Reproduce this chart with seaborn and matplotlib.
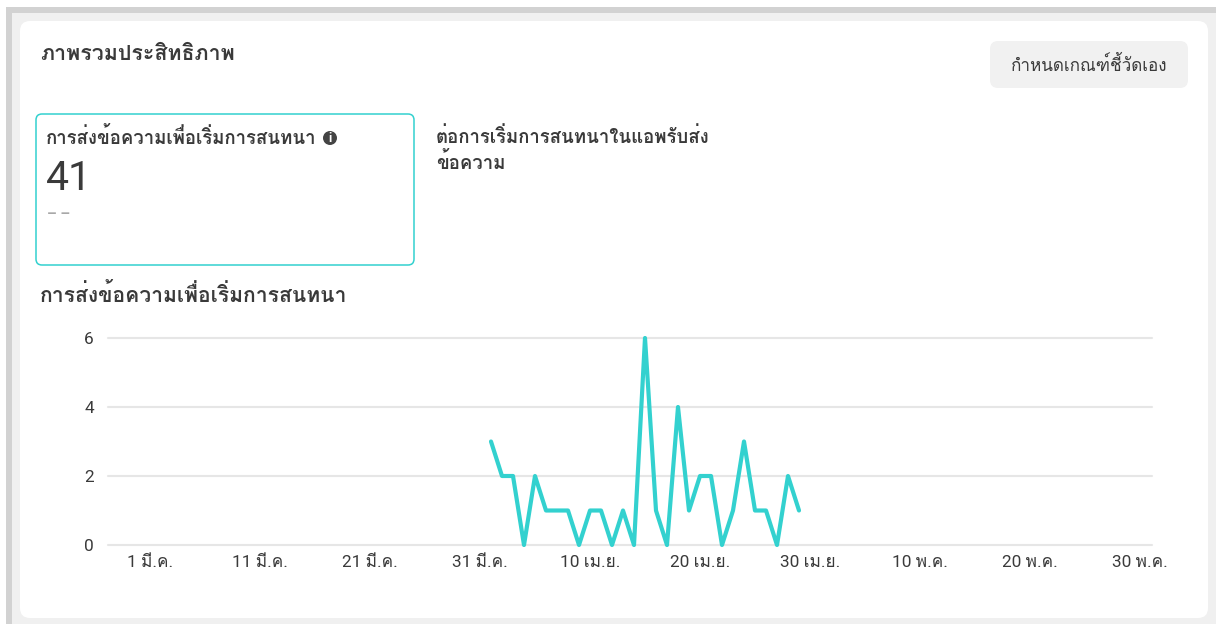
import pandas as pd
import matplotlib
matplotlib.use('Agg')
import matplotlib.pyplot as plt
from matplotlib.patches import FancyBboxPatch, Rectangle
import matplotlib.dates as mdates
import seaborn as sns

# --- Data ---
dates = pd.date_range('2024-04-01', periods=29)
values = [3, 2, 2, 0, 2, 1, 1, 1, 0, 1, 1, 0, 1, 0, 6, 1, 0, 4, 1, 2, 2, 0, 1, 3, 1, 1, 0, 2, 1]
y_ticks = [0, 2, 4, 6]
x_tick_dates = ['2024-03-01', '2024-03-11', '2024-03-21', '2024-03-31', '2024-04-10', '2024-04-20',
                '2024-04-30', '2024-05-10', '2024-05-20', '2024-05-30']
x_tick_labels = ['1 มี.ค.', '11 มี.ค.', '21 มี.ค.', '31 มี.ค.', '10 เม.ย.', '20 เม.ย.',
                 '30 เม.ย.', '10 พ.ค.', '20 พ.ค.', '30 พ.ค.']
page_title = 'ภาพรวมประสิทธิภาพ'
button_text = 'กำหนดเกณฑ์ชี้วัดเอง'
metric_title = 'การส่งข้อความเพื่อเริ่มการสนทนา'
metric_value = '41'
other_metric = 'ต่อการเริ่มการสนทนาในแอพรับส่ง\nข้อความ'

W, H = 1219, 624
TEAL = '#33d1cf'
TEXT = '#3a3a3a'
FONTS = ['Roboto', 'Loma', 'DejaVu Sans']

sns.set_theme(style='white')
plt.rcParams['font.family'] = FONTS

fig = plt.figure(figsize=(W / 100, H / 100), dpi=100, facecolor='white')

# page background drawn in pixel coordinates
bg = fig.add_axes([0, 0, 1, 1], zorder=0)
bg.set_xlim(0, W)
bg.set_ylim(H, 0)
bg.axis('off')
bg.add_patch(Rectangle((6, 7), 1210, H - 7, fc='#d2d2d2', ec='none'))
bg.add_patch(Rectangle((12, 13), 1204, H - 13, fc='#f0f0f0', ec='none'))
bg.add_patch(FancyBboxPatch((20, 21), 1188, 597, boxstyle='round,pad=0,rounding_size=10', fc='white', ec='none'))
bg.add_patch(FancyBboxPatch((990, 41), 198, 47, boxstyle='round,pad=0,rounding_size=8', fc='#f1f1f1', ec='none'))
bg.add_patch(FancyBboxPatch((36, 114), 378, 151, boxstyle='round,pad=0,rounding_size=6', fc='white', ec=TEAL, lw=1.1))

bg.text(40, 54, page_title, fontsize=15.4, fontweight='bold', color=TEXT, va='center')
bg.text(1089, 64, button_text, fontsize=12.3, color=TEXT, va='center', ha='center')
bg.text(46, 137, metric_title, fontsize=13.4, fontweight='bold', color=TEXT, va='center')
bg.text(46, 178, metric_value, fontsize=29.5, color=TEXT, va='center')
bg.text(47, 214, '– –', fontsize=11, color='#a8a8a8', va='center', fontweight='bold')
bg.text(436, 150, other_metric, fontsize=13.4, fontweight='bold', color=TEXT, va='center', linespacing=1.3)
bg.text(40, 294, metric_title, fontsize=15.2, fontweight='bold', color=TEXT, va='center')
bg.add_patch(plt.Circle((330, 138), 7, fc='#444444', ec='none'))
bg.text(330, 138, 'i', fontsize=9, fontweight='bold', color='white', va='center', ha='center')

# chart
ax = fig.add_axes([108 / W, 1 - 545 / H, (1152 - 108) / W, (545 - 338) / H], zorder=1)
ax.patch.set_alpha(0)
df = pd.DataFrame({'date': dates, 'value': values})
sns.lineplot(data=df, x='date', y='value', color=TEAL, linewidth=3, ax=ax, clip_on=False)
tick_locs = mdates.date2num(pd.to_datetime(x_tick_dates))
ax.set_xlim(tick_locs[0] - 42 / 11, tick_locs[-1] + 12 / 11)
ax.set_ylim(0, 6)
ax.set_xticks(tick_locs)
ax.set_xticklabels(x_tick_labels, fontsize=12.4, color=TEXT)
ax.set_yticks(y_ticks)
ax.set_yticklabels(y_ticks, fontsize=12.4, color=TEXT)
ax.set_xlabel('')
ax.set_ylabel('')
ax.grid(axis='y', color='#e6e6e6', lw=1.5)
ax.set_axisbelow(True)
sns.despine(ax=ax, left=True, bottom=True)
ax.tick_params(axis='x', length=0, pad=7)
ax.tick_params(axis='y', length=0, pad=10)
for line in ax.get_ygridlines():
    line.set_clip_on(False)

fig.savefig('out.png', dpi=100)
plt.close()
